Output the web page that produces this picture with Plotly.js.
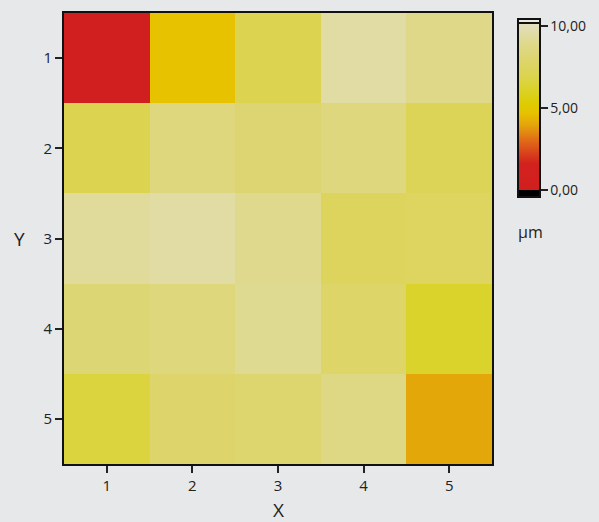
<!DOCTYPE html>
<html>
<head>
<meta charset="utf-8">
<script src="https://cdn.plot.ly/plotly-3.0.1.min.js"></script>
<style>html,body{margin:0;padding:0;background:#e7e8ea;}</style>
</head>
<body>
<div id="chart" style="width:599px;height:522px;"></div>
<script>
var xCats = [1, 2, 3, 4, 5];
var yCats = [1, 2, 3, 4, 5];
var zRow1 = [0.1, 4.7, 7.0, 9.5, 8.8];
var zRow2 = [7.0, 8.5, 8.1, 8.5, 7.2];
var zRow3 = [9.3, 9.5, 9.0, 7.4, 7.5];
var zRow4 = [8.2, 8.4, 9.1, 7.8, 6.2];
var zRow5 = [6.6, 7.9, 8.0, 8.7, 4.0];
var cbTickVals = [0, 5, 10];
var cbTickText = ['0,00', '5,00', '10,00'];

var cmin = -0.43, cmax = 10.43;
function n(v){ return (v - cmin) / (cmax - cmin); }
var colorscale = [
  [0, '#000000'], [n(-0.01), '#000000'],
  [n(0), '#d11f1f'], [n(1.6), '#d2211e'],
  [n(3.0), '#e06a18'], [n(4.0), '#e4a70a'],
  [n(4.7), '#e6c200'], [n(5.2), '#ddcb00'],
  [n(6.2), '#dad32c'], [n(7.0), '#dcd450'],
  [n(8.0), '#ddd56e'], [n(9.0), '#dfd98e'],
  [n(9.6), '#e0dca8'], [n(10.12), '#e2dfbe'], [n(10.13), '#111111'],
  [n(10.24), '#111111'], [n(10.25), '#ecebdf'], [1, '#ecebdf']
];

var trace = {
  type: 'heatmap',
  x: xCats,
  y: yCats,
  z: [zRow1, zRow2, zRow3, zRow4, zRow5],
  zmin: cmin,
  zmax: cmax,
  colorscale: colorscale,
  colorbar: {
    thickness: 22,
    thicknessmode: 'pixels',
    len: 178,
    lenmode: 'pixels',
    x: (518 - 64) / 428,
    xanchor: 'left',
    xpad: 0,
    y: (464 - 19) / 451,
    yanchor: 'top',
    ypad: 0,
    outlinewidth: 2,
    outlinecolor: '#111',
    borderwidth: 0,
    tickmode: 'array',
    tickvals: cbTickVals,
    ticktext: cbTickText,
    ticks: 'outside',
    ticklen: 7,
    tickwidth: 2,
    tickcolor: '#222',
    tickfont: {family: 'Open Sans, sans-serif', size: 14, color: '#222'}
  }
};

var layout = {
  width: 599,
  height: 522,
  margin: {l: 64, r: 107, t: 13, b: 58},
  paper_bgcolor: '#e7e8ea',
  plot_bgcolor: '#e7e8ea',
  font: {family: 'Open Sans, sans-serif', color: '#222'},
  xaxis: {
    tickmode: 'array', tickvals: xCats, ticktext: xCats.map(String),
    ticks: 'outside', ticklen: 7, tickwidth: 2, tickcolor: '#222',
    tickfont: {size: 15, color: '#222'},
    showline: true, linecolor: '#111', linewidth: 2, mirror: true,
    showgrid: false, zeroline: false, range: [0.5, 5.5]
  },
  yaxis: {
    tickmode: 'array', tickvals: yCats, ticktext: yCats.map(String),
    ticks: 'outside', ticklen: 7, tickwidth: 2, tickcolor: '#222',
    tickfont: {size: 15, color: '#222'},
    showline: true, linecolor: '#111', linewidth: 2, mirror: true,
    showgrid: false, zeroline: false, range: [5.5, 0.5]
  },
  annotations: [
    {text: 'X', xref: 'paper', yref: 'paper', x: 0.5, y: (464 - 510) / 451, yanchor: 'middle', showarrow: false,
     font: {size: 19, color: '#222'}},
    {text: 'Y', xref: 'paper', yref: 'paper', x: -0.105, y: 0.5, xanchor: 'center', showarrow: false,
     font: {size: 19, color: '#222'}},
    {text: 'μm', xref: 'paper', yref: 'paper', x: (530 - 64) / 428, y: (464 - 232) / 451, xanchor: 'center', yanchor: 'middle', showarrow: false,
     font: {size: 16, color: '#222'}}
  ]
};

Plotly.newPlot('chart', [trace], layout, {displayModeBar: false, staticPlot: true});
</script>
</body>
</html>
